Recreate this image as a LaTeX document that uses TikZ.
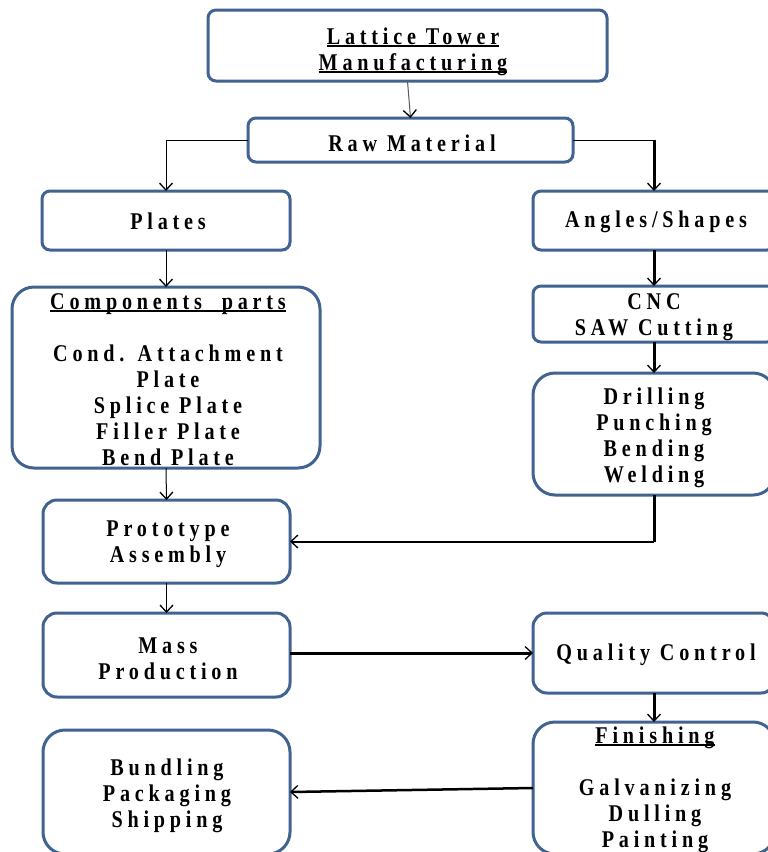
\documentclass[tikz,border=0pt]{standalone}
\usepackage{fontspec}
\setmainfont{Liberation Serif}[FakeStretch=0.84,LetterSpace=20]
\usetikzlibrary{arrows.meta}
\definecolor{boxblue}{RGB}{64,99,146}
\newcommand\ulx[1]{\setbox0\hbox{#1}\rlap{\usebox0}\rule[-2.5pt]{\wd0}{1.7pt}}
\begin{document}
\begin{tikzpicture}[x=1pt,y=-1pt,
  box/.style={draw=boxblue, line width=3pt, rounded corners=8pt, fill=white, inner sep=0pt, outer sep=0pt},
  bigbox/.style={box, rounded corners=22pt},
  lbl/.style={font=\fontsize{24}{26}\selectfont\bfseries, align=center, inner sep=0pt},
  tip/.style={-{Straight Barb[length=7pt,width=13pt,line width=1.3pt,color=black]}},
  thinline/.style={line width=1pt, draw=black},
  thickline/.style={line width=3pt, draw=black},
  medline/.style={line width=2pt, draw=black}]
\useasboundingbox (0,0) rectangle (768,852);
\clip (0,0) rectangle (768,852);
\fill[white] (0,0) rectangle (768,852);

% boxes
\node[box, minimum width=399pt, minimum height=71pt] (title) at (407.5,45.5) {};
\node[box, minimum width=325pt, minimum height=44pt] (raw) at (410.5,140) {};
\node[box, minimum width=248pt, minimum height=59pt] (plates) at (166,220.5) {};
\node[box, minimum width=242pt, minimum height=59pt] (angles) at (654,220.5) {};
\node[box, minimum width=242pt, minimum height=56pt] (cnc) at (654,314) {};
\node[bigbox, minimum width=242pt, minimum height=122pt] (drill) at (654,434) {};
\node[bigbox, minimum width=308pt, minimum height=181pt] (comp) at (166,377.5) {};
\node[box, minimum width=247pt, minimum height=83pt, rounded corners=14pt] (proto) at (166.5,541.5) {};
\node[box, minimum width=247pt, minimum height=84pt, rounded corners=14pt] (mass) at (166.5,655) {};
\node[box, minimum width=242pt, minimum height=80pt, rounded corners=14pt] (qual) at (654,653) {};
\node[bigbox, minimum width=242pt, minimum height=132pt] (fin) at (654,788) {};
\node[bigbox, minimum width=247pt, minimum height=124pt] (bund) at (166.5,792) {};

% texts
\node[lbl] (ttitle) at (413,51.5) {\ulx{Lattice Tower}\\\ulx{Manufacturing}};
\node[lbl] (traw) at (412,143.5) {Raw Material};
\node[lbl] (tplates) at (168,221.5) {Plates};
\node[lbl] (tangles) at (656,221.5) {Angles/Shapes};
\node[lbl] (tcnc) at (654,317) {CNC\\SAW Cutting};
\node[lbl] (tdrill) at (654,438) {Drilling\\Punching\\Bending\\Welding};
\node[lbl] (tcomp) at (168,379.5) {\ulx{Components\ \ parts}\\[26pt]Cond. Attachment\\Plate\\Splice Plate\\Filler Plate\\Bend Plate};
\node[lbl] (tproto) at (168,544.5) {Prototype\\Assembly};
\node[lbl] (tmass) at (168,658.5) {Mass\\Production};
\node[lbl] (tqual) at (656,654.5) {Quality Control};
\node[lbl] (tfin) at (655,789.5) {\ulx{Finishing}\\[26pt]Galvanizing\\Dulling\\Painting};
\node[lbl] (tbund) at (167,796) {Bundling\\Packaging\\Shipping};

% connectors
\draw[line width=1pt, draw=black!65, tip] (title.south) -- (raw.north);
\draw[thinline, tip] (raw.west) -| (plates.north);
\coordinate (rc) at (raw.east -| angles.north);
\draw[thinline] (raw.east) -- (rc);
\draw[thickline, tip] (rc) -- (angles.north);
\draw[thinline, tip] (plates.south) -- (comp.north);
\draw[thickline, tip] (angles.south) -- (cnc.north);
\draw[thickline, tip] (cnc.south) -- (drill.north);
\draw[thinline, tip] (comp.south) -- (proto.north);
\coordinate (dc) at (drill.south |- proto.east);
\draw[thickline] (drill.south) -- (dc);
\draw[medline, tip] (dc) -- (proto.east);
\draw[thinline, tip] (proto.south) -- (mass.north);
\draw[thickline, tip] ([yshift=2pt]mass.east) -- (qual.west);
\draw[thickline, tip] (qual.south) -- (fin.north);
\draw[medline, line width=2.5pt, tip] (fin.west) -- (bund.east);
\end{tikzpicture}
\end{document}
